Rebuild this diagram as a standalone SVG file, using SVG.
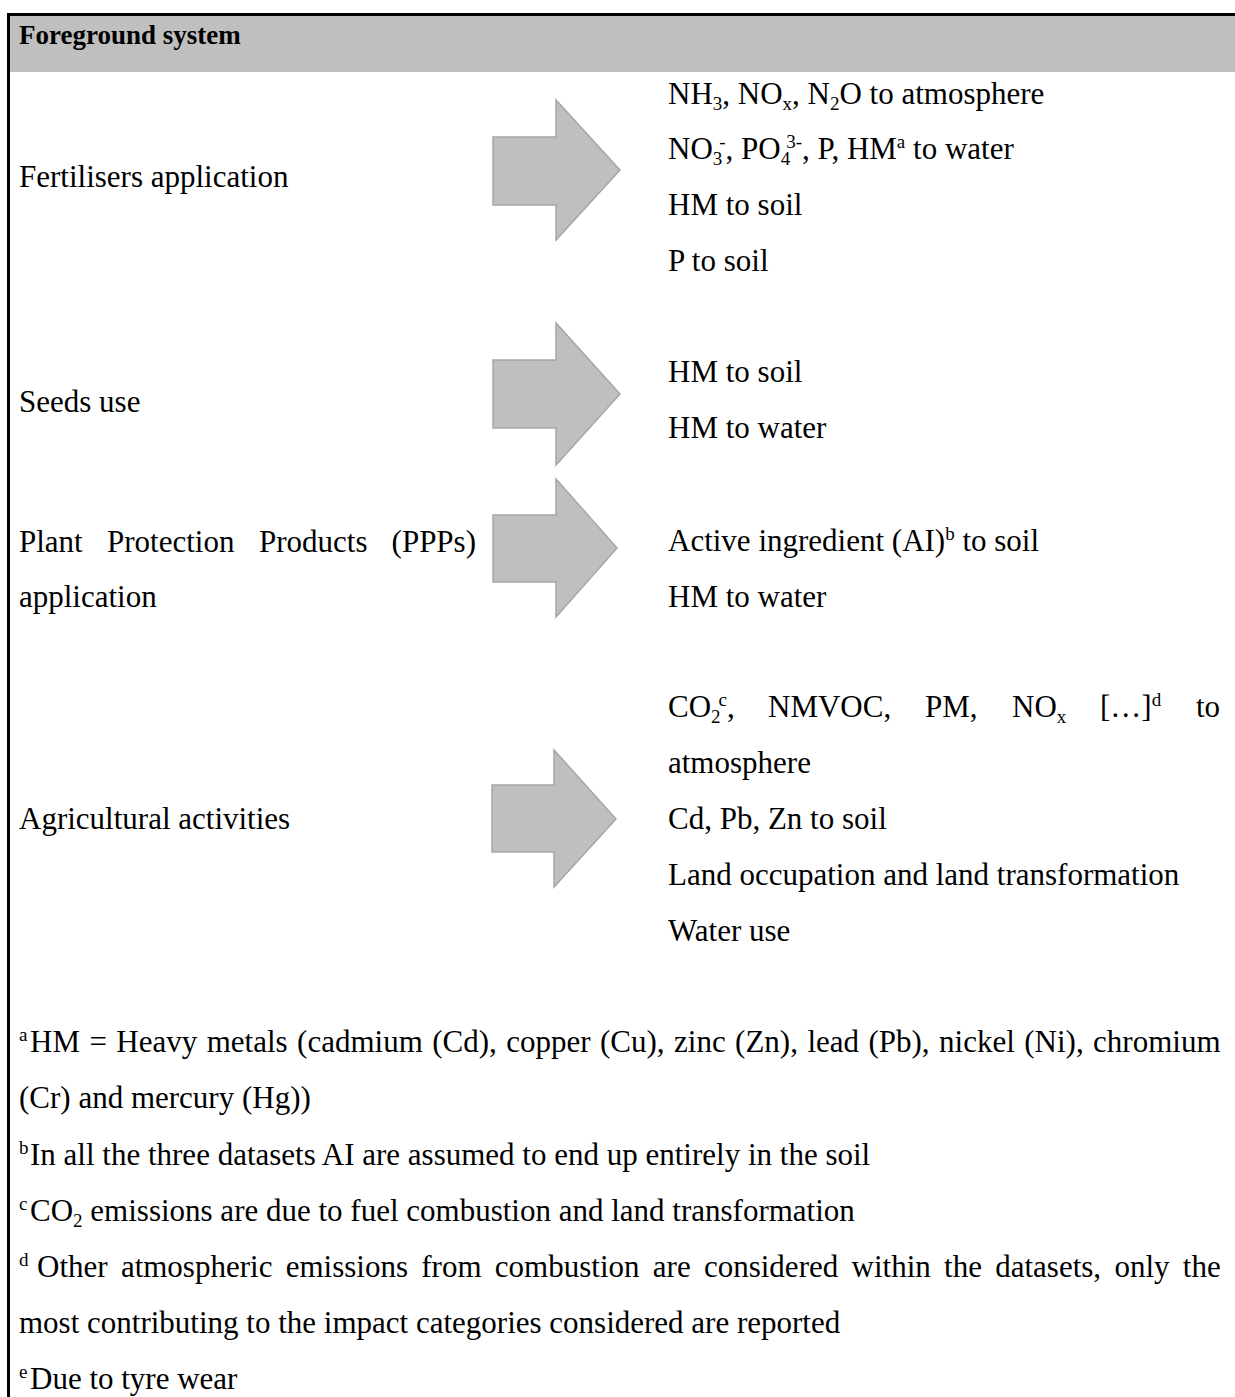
<svg xmlns="http://www.w3.org/2000/svg" width="1235" height="1397" viewBox="0 0 1235 1397">
<style>
text { font-family: "Liberation Serif", "Times New Roman", serif; font-size: 31px; fill: #000; }
.hd { font-weight: bold; font-size: 27px; }
.s { font-size: 19px; }
.arrow { fill: #BFBFBF; stroke: #A6A6A6; stroke-width: 1.5; stroke-linejoin: miter; }
</style>
<rect x="0" y="0" width="1235" height="1397" fill="#fff"/>
<g id="frame">
  <rect x="10" y="16" width="1225" height="56" fill="#BFBFBF"/>
  <rect x="7" y="13" width="1228" height="3" fill="#000"/>
  <rect x="7" y="13" width="3" height="1384" fill="#000"/>
  <text class="hd" x="19" y="44">Foreground system</text>
</g>
<g id="connectors">
  <polygon class="arrow" points="493,137 556,137 556,100 620,170 556,240 556,205 493,205"/>
  <polygon class="arrow" points="493,360 556,360 556,323 620,394 556,465 556,428 493,428"/>
  <polygon class="arrow" points="493,515 556,515 556,479 617,548 556,617 556,582 493,582"/>
  <polygon class="arrow" points="492,785 554,785 554,750 616,819 554,887 554,852 492,852"/>
</g>
<g id="fertilisers">
  <text x="19" y="187">Fertilisers application</text>
</g>
<g id="fertilisers-out">
  <text x="668" y="104">NH<tspan class="s" dy="6">3</tspan><tspan dy="-6">, NO</tspan><tspan class="s" dy="6">x</tspan><tspan dy="-6">, N</tspan><tspan class="s" dy="6">2</tspan><tspan dy="-6">O to atmosphere</tspan></text>
  <text x="668" y="159">NO<tspan class="s" dy="6">3</tspan><tspan class="s" dx="-3" dy="-17">-</tspan><tspan dy="11">, PO</tspan><tspan class="s" dy="6">4</tspan><tspan class="s" dx="-4" dy="-17">3-</tspan><tspan dy="11">, P, HM</tspan><tspan class="s" dy="-11">a</tspan><tspan dy="11"> to water</tspan></text>
  <text x="668" y="215">HM to soil</text>
  <text x="668" y="271">P to soil</text>
</g>
<g id="seeds">
  <text x="19" y="412">Seeds use</text>
</g>
<g id="seeds-out">
  <text x="668" y="382">HM to soil</text>
  <text x="668" y="438">HM to water</text>
</g>
<g id="ppp">
  <text x="19" y="552">Plant</text>
  <text x="107" y="552">Protection</text>
  <text x="259" y="552">Products</text>
  <text x="476" y="552" text-anchor="end">(PPPs)</text>
  <text x="19" y="607">application</text>
</g>
<g id="ppp-out">
  <text x="668" y="551">Active ingredient (AI)<tspan class="s" dy="-11">b</tspan><tspan dy="11"> to soil</tspan></text>
  <text x="668" y="607">HM to water</text>
</g>
<g id="agri">
  <text x="19" y="829">Agricultural activities</text>
</g>
<g id="agri-out">
  <text x="668" y="717">CO<tspan class="s" dy="6">2</tspan><tspan class="s" dx="-2" dy="-17">c</tspan><tspan dy="11">,</tspan></text>
  <text x="768" y="717">NMVOC,</text>
  <text x="925" y="717">PM,</text>
  <text x="1012" y="717">NO<tspan class="s" dy="6">x</tspan></text>
  <text x="1100" y="717">[…]<tspan class="s" dy="-11">d</tspan></text>
  <text x="1220" y="717" text-anchor="end">to</text>
  <text x="668" y="773">atmosphere</text>
  <text x="668" y="829">Cd, Pb, Zn to soil</text>
  <text x="668" y="885">Land occupation and land transformation</text>
  <text x="668" y="941">Water use</text>
</g>
<g id="footnotes">
  <text class="s" x="19" y="1041">a</text>
  <text x="30" y="1052" word-spacing="1.7">HM = Heavy metals (cadmium (Cd), copper (Cu), zinc (Zn), lead (Pb), nickel (Ni), chromium</text>
  <text x="19" y="1108">(Cr) and mercury (Hg))</text>
  <text class="s" x="19" y="1154">b</text>
  <text x="30" y="1165">In all the three datasets AI are assumed to end up entirely in the soil</text>
  <text class="s" x="19" y="1210">c</text>
  <text x="30" y="1221">CO<tspan class="s" dy="6">2</tspan><tspan dy="-6"> emissions are due to fuel combustion and land transformation</tspan></text>
  <text class="s" x="19" y="1266">d</text>
  <text x="37" y="1277" word-spacing="5.55">Other atmospheric emissions from combustion are considered within the datasets, only the</text>
  <text x="19" y="1333">most contributing to the impact categories considered are reported</text>
  <text class="s" x="19" y="1378">e</text>
  <text x="30" y="1389">Due to tyre wear</text>
</g>
</svg>
